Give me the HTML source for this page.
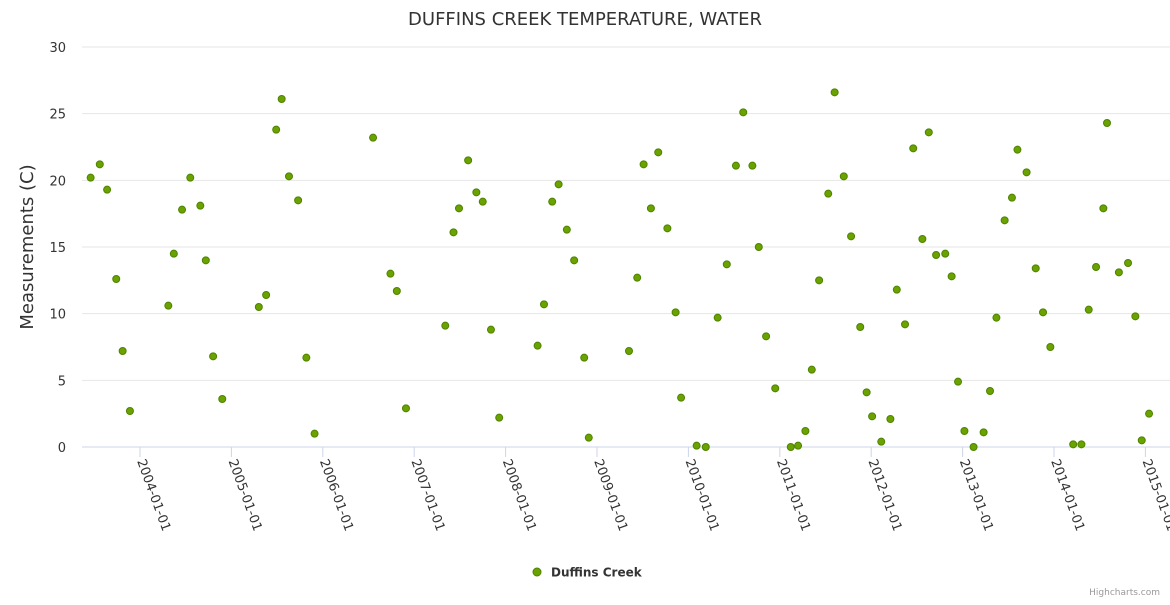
<!DOCTYPE html>
<html><head><meta charset="utf-8"><style>
body{margin:0;background:#fff;font-family:"Liberation Sans","DejaVu Sans",sans-serif}
svg text{font-family:"DejaVu Sans","Liberation Sans",sans-serif}
</style></head><body>
<svg id="chart" width="1170" height="600" xmlns="http://www.w3.org/2000/svg">
<rect width="1170" height="600" fill="#fff"/>
<text x="585" y="25" text-anchor="middle" font-size="18" fill="#333">DUFFINS CREEK TEMPERATURE, WATER</text>
<g id="grid"></g>
<g id="xaxis"></g>
<g id="yaxis"></g>
<g id="points"></g>
<text transform="translate(33,247) rotate(-90)" text-anchor="middle" font-size="18" fill="#333">Measurements (C)</text>
<g>
<circle cx="537" cy="572" r="4" fill="#6aa300" stroke="#4e8200" stroke-width="1"/>
<text x="551" y="576.5" font-size="12" font-weight="bold" fill="#333">Duffins Creek</text>
</g>
<text x="1160" y="595" text-anchor="end" font-size="9" fill="#999">Highcharts.com</text>
</svg>
<script>
const yTicks=[0,5,10,15,20,25,30];
const xTickYears=[2004,2005,2006,2007,2008,2009,2010,2011,2012,2013,2014,2015];
const dates=[2003.46,2003.56,2003.64,2003.74,2003.81,2003.89,2004.31,2004.37,2004.46,2004.55,2004.66,2004.72,2004.80,2004.90,2005.30,2005.38,2005.49,2005.55,2005.63,2005.73,2005.82,2005.91,2006.55,2006.74,2006.81,2006.91,2007.34,2007.43,2007.49,2007.59,2007.68,2007.75,2007.84,2007.93,2008.35,2008.42,2008.51,2008.58,2008.67,2008.75,2008.86,2008.91,2009.35,2009.44,2009.51,2009.59,2009.67,2009.77,2009.86,2009.92,2010.09,2010.19,2010.32,2010.42,2010.52,2010.60,2010.70,2010.77,2010.85,2010.95,2011.12,2011.20,2011.28,2011.35,2011.43,2011.53,2011.60,2011.70,2011.78,2011.88,2011.95,2012.01,2012.11,2012.21,2012.28,2012.37,2012.46,2012.56,2012.63,2012.71,2012.81,2012.88,2012.95,2013.02,2013.12,2013.23,2013.30,2013.37,2013.46,2013.54,2013.60,2013.70,2013.80,2013.88,2013.96,2014.21,2014.30,2014.38,2014.46,2014.54,2014.58,2014.71,2014.81,2014.89,2014.96,2015.04];
const temps=[20.2,21.2,19.3,12.6,7.2,2.7,10.6,14.5,17.8,20.2,18.1,14.0,6.8,3.6,10.5,11.4,23.8,26.1,20.3,18.5,6.7,1.0,23.2,13.0,11.7,2.9,9.1,16.1,17.9,21.5,19.1,18.4,8.8,2.2,7.6,10.7,18.4,19.7,16.3,14.0,6.7,0.7,7.2,12.7,21.2,17.9,22.1,16.4,10.1,3.7,0.1,0.0,9.7,13.7,21.1,25.1,21.1,15.0,8.3,4.4,0.0,0.1,1.2,5.8,12.5,19.0,26.6,20.3,15.8,9.0,4.1,2.3,0.4,2.1,11.8,9.2,22.4,15.6,23.6,14.4,14.5,12.8,4.9,1.2,0.0,1.1,4.2,9.7,17.0,18.7,22.3,20.6,13.4,10.1,7.5,0.2,0.2,10.3,13.5,17.9,24.3,13.1,13.8,9.8,0.5,2.5];
const NS="http://www.w3.org/2000/svg";
function xs(yr){return 140+91.4*(yr-2004);}
function ys(v){return 447-v*(400/30);}
function mk(tag,attrs,parent){const e=document.createElementNS(NS,tag);for(const k in attrs)e.setAttribute(k,attrs[k]);document.getElementById(parent).appendChild(e);return e;}
yTicks.forEach(t=>{
  const l=mk('line',{x1:82,x2:1170,y1:ys(t),y2:ys(t),stroke:t===0?'#ccd6eb':'#e6e6e6','stroke-width':1},'grid');
  
  
  const tx=mk('text',{x:66,y:ys(t)+5,'text-anchor':'end','font-size':13,fill:'#333'},'yaxis');
  tx.textContent=t;
  
  
});
xTickYears.forEach(y=>{
  const x=xs(y);
  const l=mk('line',{x1:x,x2:x,y1:447,y2:457,stroke:'#ccd6eb'},'xaxis');
  
  
  const t=mk('text',{x:0,y:0,'font-size':13,fill:'#333',transform:`translate(${x-3},${461}) rotate(70)`},'xaxis');
  t.textContent=y+'-01-01';
  
  
});
dates.forEach((d,i)=>{
  const c=mk('circle',{cx:xs(d),cy:ys(temps[i]),r:3.5,fill:'#6aa300',stroke:'#4e8200','stroke-width':1},'points');
  
  
});
</script>
</body></html>
